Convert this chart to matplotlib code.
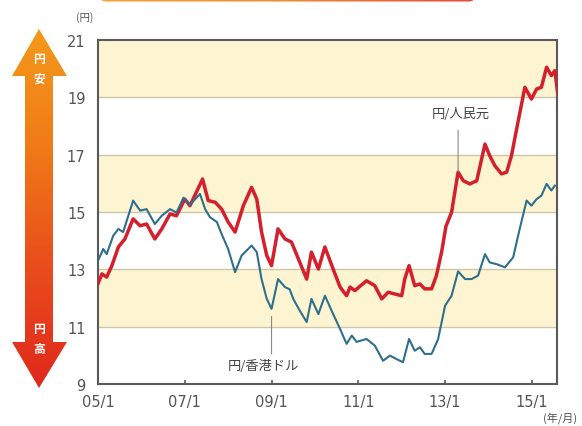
import numpy as np
import matplotlib
matplotlib.use("Agg")
import matplotlib.pyplot as plt
from matplotlib.patches import Polygon, FancyBboxPatch
from matplotlib.colors import LinearSegmentedColormap

plt.rcParams['font.family'] = ['DejaVu Sans', 'Noto Sans CJK JP']

# ---- data (decimal year, yen) ----
cny_t = [2005.00, 2005.09, 2005.20, 2005.32, 2005.47, 2005.62, 2005.81, 2005.97, 2006.12, 2006.31,
         2006.47, 2006.66, 2006.81, 2007.00, 2007.12, 2007.27, 2007.41, 2007.54, 2007.70, 2007.85,
         2008.00, 2008.16, 2008.35, 2008.54, 2008.66, 2008.77, 2008.89, 2009.00, 2009.15, 2009.31,
         2009.46, 2009.62, 2009.81, 2009.92, 2010.08, 2010.23, 2010.42, 2010.58, 2010.73, 2010.81,
         2010.92, 2011.19, 2011.38, 2011.54, 2011.69, 2011.84, 2012.00, 2012.07, 2012.17, 2012.30,
         2012.42, 2012.53, 2012.69, 2012.80, 2012.92, 2013.02, 2013.15, 2013.30, 2013.42, 2013.57,
         2013.73, 2013.92, 2014.03, 2014.15, 2014.30, 2014.42, 2014.53, 2014.68, 2014.84, 2014.99,
         2015.11, 2015.22, 2015.34, 2015.45, 2015.53, 2015.60]
cny_v = [12.50, 12.84, 12.73, 13.13, 13.78, 14.06, 14.76, 14.52, 14.58, 14.06,
         14.41, 14.93, 14.87, 15.45, 15.22, 15.70, 16.15, 15.40, 15.34, 15.10,
         14.65, 14.30, 15.22, 15.86, 15.45, 14.30, 13.48, 13.13, 14.41, 14.06,
         13.95, 13.36, 12.66, 13.60, 13.01, 13.78, 13.01, 12.38, 12.08, 12.38,
         12.26, 12.60, 12.43, 11.97, 12.20, 12.14, 12.08, 12.66, 13.13, 12.43,
         12.49, 12.32, 12.32, 12.78, 13.60, 14.50, 14.99, 16.39, 16.09, 15.98,
         16.09, 17.37, 16.96, 16.61, 16.33, 16.39, 16.96, 18.13, 19.35, 18.94,
         19.29, 19.35, 20.05, 19.76, 19.93, 19.10]

hkd_t = [2005.00, 2005.12, 2005.20, 2005.35, 2005.47, 2005.58, 2005.81, 2005.97, 2006.12, 2006.31,
         2006.47, 2006.66, 2006.81, 2006.97, 2007.12, 2007.35, 2007.47, 2007.58, 2007.74, 2007.85,
         2008.00, 2008.16, 2008.31, 2008.54, 2008.66, 2008.77, 2008.89, 2009.00, 2009.15, 2009.31,
         2009.42, 2009.50, 2009.65, 2009.81, 2009.92, 2010.08, 2010.23, 2010.42, 2010.58, 2010.73,
         2010.85, 2010.96, 2011.19, 2011.38, 2011.57, 2011.73, 2011.88, 2012.03, 2012.17, 2012.30,
         2012.42, 2012.53, 2012.69, 2012.84, 2013.00, 2013.15, 2013.30, 2013.46, 2013.61, 2013.76,
         2013.92, 2014.03, 2014.19, 2014.38, 2014.57, 2014.72, 2014.88, 2014.99, 2015.11, 2015.22,
         2015.34, 2015.45, 2015.53]
hkd_v = [13.30, 13.71, 13.53, 14.17, 14.41, 14.30, 15.40, 15.05, 15.10, 14.58,
         14.87, 15.10, 14.98, 15.50, 15.25, 15.63, 15.10, 14.82, 14.65, 14.23,
         13.71, 12.90, 13.48, 13.83, 13.60, 12.66, 11.97, 11.62, 12.66, 12.38,
         12.30, 11.97, 11.56, 11.16, 11.97, 11.44, 12.08, 11.44, 10.92, 10.40,
         10.69, 10.47, 10.57, 10.34, 9.81, 9.99, 9.87, 9.76, 10.57, 10.16,
         10.28, 10.05, 10.05, 10.57, 11.73, 12.08, 12.93, 12.66, 12.66, 12.78,
         13.53, 13.24, 13.18, 13.07, 13.42, 14.41, 15.40, 15.22, 15.45, 15.57,
         15.98, 15.75, 15.92]

x_ticks = [2005, 2007, 2009, 2011, 2013, 2015]
x_labels = ['05/1', '07/1', '09/1', '11/1', '13/1', '15/1']
y_ticks = [9, 11, 13, 15, 17, 19, 21]

W, H = 582, 427
fig = plt.figure(figsize=(W / 100, H / 100), dpi=100)

# background decoration axes in pixel coordinates
bg = fig.add_axes([0, 0, 1, 1])
bg.set_xlim(0, W)
bg.set_ylim(H, 0)
bg.axis('off')

# top orange bar (bottom of a title box)
bar_cmap = LinearSegmentedColormap.from_list('bar', ['#f6a23a', '#f08a30', '#e8453a'])
grad = np.linspace(0, 1, 256).reshape(1, -1)
bar = FancyBboxPatch((100, -12), 375, 14.5, boxstyle='round,pad=0,rounding_size=6',
                     fc='none', ec='none')
bg.add_patch(bar)
im = bg.imshow(grad, cmap=bar_cmap, extent=(100, 475, 3, -12), aspect='auto')
im.set_clip_path(bar)

# vertical double arrow with gradient
arrow_pts = [(39, 30), (67, 77), (53, 77), (53, 343), (67, 343), (39, 389),
             (12, 343), (25, 343), (25, 77), (12, 77)]
poly = Polygon(arrow_pts, closed=True, fc='none', ec='none')
bg.add_patch(poly)
arr_cmap = LinearSegmentedColormap.from_list('arr', ['#f49a1a', '#f07a18', '#e84c1c', '#e0281c'])
vgrad = np.linspace(0, 1, 256).reshape(-1, 1)
im2 = bg.imshow(vgrad, cmap=arr_cmap, extent=(10, 70, 390, 28), aspect='auto')
im2.set_clip_path(poly)
for ch, yy in [('円', 60), ('安', 79), ('円', 330), ('高', 349)]:
    bg.text(39, yy, ch, color='white', fontsize=8.5, ha='center', va='center',
            fontweight='bold', family=['Noto Sans CJK JP'])

# main axes
L, R, T, B = 98, 557, 41, 385
ax = fig.add_axes([L / W, 1 - B / H, (R - L) / W, (B - T) / H])
ax.set_xlim(2005, 2015.58)
ax.set_ylim(9, 21)
for lo in [11, 15, 19]:
    ax.axhspan(lo, lo + 2, color='#fdf5d2', zorder=0, lw=0)
for yv in [11, 13, 15, 17, 19]:
    ax.axhline(yv, color='#cfc6a8', lw=1.0, zorder=1)

ax.plot(cny_t, cny_v, color='#d41f2c', lw=2.5, zorder=3, solid_joinstyle='round')
ax.plot(hkd_t, hkd_v, color='#2f6f8c', lw=1.5, zorder=3, solid_joinstyle='round')

for s in ax.spines.values():
    s.set_color('#5a5a5a')
    s.set_linewidth(1.5)
ax.set_xticks(x_ticks)
ax.set_xticklabels(x_labels)
ax.set_yticks(y_ticks)
ax.tick_params(axis='x', direction='in', length=3, width=1.2, color='#5a5a5a',
               labelsize=10.5, labelcolor='#555555', pad=7)
ax.tick_params(axis='y', length=0, labelsize=10.5, labelcolor='#555555', pad=9)

# annotations
ax.annotate('', xy=(2013.30, 16.3), xytext=(2013.30, 17.95),
            arrowprops=dict(arrowstyle='-', color='#888888', lw=0.8))
ax.text(2013.36, 18.42, '円/人民元', ha='center', va='center', fontsize=9.5, color='#444444',
        family=['Noto Sans CJK JP'])
ax.annotate('', xy=(2009.00, 11.45), xytext=(2009.00, 9.95),
            arrowprops=dict(arrowstyle='-', color='#888888', lw=0.8))
ax.text(2008.0, 9.63, '円/香港ドル', ha='left', va='center', fontsize=9.5, color='#444444',
        family=['Noto Sans CJK JP'])

bg.text(85, 18, '(円)', ha='center', va='center', fontsize=7.5, color='#555555',
        family=['Noto Sans CJK JP'])
bg.text(560, 418, '(年/月)', ha='center', va='center', fontsize=8, color='#555555',
        family=['Noto Sans CJK JP'])

fig.savefig('out.png', dpi=100)
